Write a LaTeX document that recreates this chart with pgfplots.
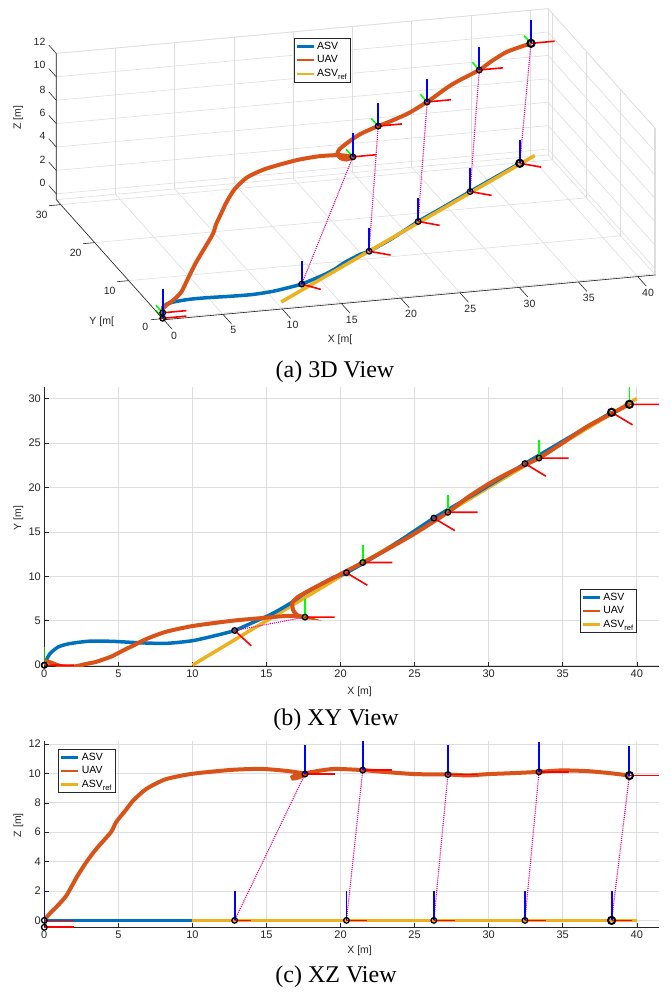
\documentclass[border=0pt]{standalone}
\usepackage{fontspec}
\setmainfont{Liberation Serif}
\setsansfont{Liberation Sans}
\usepackage{pgfplots}
\usepackage{pgfplotstable}
\pgfplotsset{compat=1.18}

\definecolor{asvc}{RGB}{0,114,189}
\definecolor{uavc}{RGB}{217,83,25}
\definecolor{refc}{RGB}{237,177,32}
\definecolor{gridc}{RGB}{222,222,222}
\definecolor{axc}{RGB}{38,38,38}

% UAV trajectory
\pgfplotstableread{
x y z
0.00 0.00 -0.47
0.02 0.25 -0.15
0.15 0.45 0.20
0.45 0.30 0.55
0.90 0.00 1.00
1.50 -0.22 1.70
2.20 -0.10 2.96
2.85 0.15 3.98
3.50 0.37 4.85
4.50 0.95 6.00
4.86 1.25 6.70
5.50 1.80 7.50
6.00 2.20 8.15
6.90 2.95 8.95
8.20 3.75 9.60
10.00 4.40 9.97
12.70 5.00 10.24
14.70 5.30 10.30
16.50 5.55 10.15
17.60 5.40 9.95
17.10 5.60 9.70
16.80 6.20 9.65
16.75 7.00 9.75
17.10 7.65 9.90
18.10 8.60 10.10
19.55 9.85 10.30
21.50 11.55 10.22
22.90 12.80 10.10
25.00 14.80 9.95
27.25 17.20 9.92
28.60 18.90 9.86
30.00 20.40 9.95
31.30 21.60 10.00
33.40 23.30 10.10
34.90 24.90 10.20
36.70 26.90 10.15
38.30 28.30 10.00
39.50 29.35 9.85
}\tabUAV

% ASV trajectory
\pgfplotstableread{
x y z
0.00 0.00 0
0.15 0.60 0
0.38 1.30 0
0.94 2.05 0
1.70 2.42 0
3.07 2.70 0
4.60 2.68 0
6.40 2.52 0
8.20 2.45 0
10.00 2.75 0
11.60 3.35 0
12.85 3.90 0
14.00 4.74 0
15.40 5.80 0
16.70 7.05 0
17.60 8.10 0
19.50 9.85 0
20.40 10.40 0
23.00 12.90 0
26.30 16.55 0
29.00 19.20 0
32.45 22.68 0
35.00 25.20 0
38.30 28.45 0
}\tabASV

% ASV reference
\pgfplotstableread{
x y z
10 0 0
40 30 0
}\tabREF

% keyframes
\pgfplotstableread{
x y z
0.00 0.00 -0.47
17.60 5.40 9.95
21.50 11.55 10.22
27.25 17.20 9.92
33.40 23.30 10.10
}\tabUKF
\pgfplotstableread{
x y z
0.00 0.00 0
12.85 3.90 0
20.40 10.40 0
26.30 16.55 0
32.45 22.68 0
}\tabAKF
\pgfplotstableread{
x y z
39.50 29.35 9.85
38.30 28.45 0
}\tabEND

% frame axes (segments)
\pgfplotstableread{
x y z
0 0 -0.47
2 0 -0.47
nan nan nan
0 0 0
2 0 0
nan nan nan
17.60 5.40 9.95
19.60 5.40 9.95
nan nan nan
21.50 11.55 10.22
23.50 11.55 10.22
nan nan nan
27.25 17.20 9.92
29.25 17.20 9.92
nan nan nan
33.40 23.30 10.10
35.40 23.30 10.10
nan nan nan
39.50 29.35 9.85
41.50 29.35 9.85
nan nan nan
12.85 3.90 0
13.97 2.18 0
nan nan nan
20.40 10.40 0
21.81 8.99 0
nan nan nan
26.30 16.55 0
27.71 15.14 0
nan nan nan
32.45 22.68 0
33.86 21.27 0
nan nan nan
38.30 28.45 0
39.71 27.04 0
}\tabRED
\pgfplotstableread{
x y z
0 0 -0.47
0 2 -0.47
nan nan nan
0 0 0
0 2 0
nan nan nan
17.60 5.40 9.95
17.60 7.40 9.95
nan nan nan
21.50 11.55 10.22
21.50 13.55 10.22
nan nan nan
27.25 17.20 9.92
27.25 19.20 9.92
nan nan nan
33.40 23.30 10.10
33.40 25.30 10.10
nan nan nan
39.50 29.35 9.85
39.50 31.35 9.85
}\tabGRN
\pgfplotstableread{
x y z
0 0 0
0 0 2
nan nan nan
0 0 -0.47
0 0 1.53
nan nan nan
17.60 5.40 9.95
17.60 5.40 11.95
nan nan nan
21.50 11.55 10.22
21.50 11.55 12.22
nan nan nan
27.25 17.20 9.92
27.25 17.20 11.92
nan nan nan
33.40 23.30 10.10
33.40 23.30 12.10
nan nan nan
39.50 29.35 9.85
39.50 29.35 11.85
nan nan nan
12.85 3.90 0
12.85 3.90 2
nan nan nan
20.40 10.40 0
20.40 10.40 2
nan nan nan
26.30 16.55 0
26.30 16.55 2
nan nan nan
32.45 22.68 0
32.45 22.68 2
nan nan nan
38.30 28.45 0
38.30 28.45 2
}\tabBLU
\pgfplotstableread{
x y z
12.85 3.90 0
17.60 5.40 9.95
nan nan nan
20.40 10.40 0
21.50 11.55 10.22
nan nan nan
26.30 16.55 0
27.25 17.20 9.92
nan nan nan
32.45 22.68 0
33.40 23.30 10.10
nan nan nan
38.30 28.45 0
39.50 29.35 9.85
}\tabMAG

\pgfplotsset{
  mlab/.style={
    font=\fontsize{11}{13}\selectfont\sffamily,
    /pgf/number format/assume math mode=true,
    tick label style={font=\fontsize{11}{13}\selectfont\sffamily, text=axc},
    label style={font=\fontsize{10.5}{12}\selectfont\sffamily, text=axc},
    grid=major,
    major grid style={draw=gridc, line width=0.6pt},
    tick style={draw=axc, line width=0.5pt},
    legend style={font=\fontsize{10.5}{12}\selectfont\sffamily, draw=axc,
      line width=0.5pt, inner sep=1.5pt, row sep=1pt, fill=white},
    legend cell align=left,
    legend image code/.code={\draw[#1, line width=2.7pt] (0pt,0pt) -- (17pt,0pt);},
    unbounded coords=jump,
  },
  asvl/.style={asvc, line width=3.5pt},
  uavl/.style={uavc, line width=4pt},
  refl/.style={refc, line width=3.5pt},
  redl/.style={red, line width=1.6pt},
  grnl/.style={green, line width=1.6pt},
  blul/.style={blue, line width=1.8pt},
  magl/.style={magenta, line width=1.1pt, densely dotted},
  kfm/.style={only marks, mark=o, mark size=2.8pt, mark options={draw=black, line width=1.3pt}},
  endm/.style={only marks, mark=o, mark size=3.6pt, mark options={draw=black, line width=2pt}},
  twod/.style={mlab, anchor=south west, scale only axis, width=614.7pt,
    xmin=0, xmax=41.5, xtick={0,5,...,40},
    axis x line*=bottom, axis y line*=left,
    axis line style={draw=axc, line width=0.6pt, -},
    xlabel={X [m]},
    xlabel style={at={(axis description cs:0.5,0)}, anchor=center, xshift=8pt},
    ylabel style={at={(axis description cs:0,0.5)}, anchor=center, yshift=26pt},
  },
}
\newcommand{\legimgs}{%
  \addlegendimage{asvl}\addlegendentry{ASV}
  \addlegendimage{uavl}\addlegendentry{UAV}
  \addlegendimage{refl}\addlegendentry{ASV\raisebox{-0.55ex}{\fontsize{7.5}{8}\selectfont ref}}
}

\begin{document}
\begin{tikzpicture}
\useasboundingbox (0,0) rectangle (670pt,992pt);

% ---------------- (a) 3D view ----------------
\begin{axis}[mlab,
  at={(162.7pt,679.2pt)}, anchor=origin,
  x={(11.85pt,1.08pt)}, y={(-3.4pt,3.8pt)}, z={(0pt,11.7pt)},
  xmin=0, xmax=41.5, ymin=-0.3, ymax=31.3, zmin=-0.5, zmax=12,
  xtick={0,5,...,40}, ytick={0,10,20,30}, ztick={0,2,...,12},
  tick align=outside, major tick length=11pt,
  tick style={draw=none},
  axis line style={draw=gridc, line width=0.6pt},
  tick label style={font=\fontsize{10.5}{12}\selectfont\sffamily},
  clip=false,
  legend style={at={(0.396,0.905)}, anchor=north west},
]
\legimgs
\addplot3[asvl, smooth, tension=0.4, forget plot] table[x=x,y=y,z=z] {\tabASV};
\addplot3[refl, forget plot] table[x=x,y=y,z=z] {\tabREF};
\addplot3[uavl, smooth, tension=0.4, forget plot] table[x=x,y=y,z=z] {\tabUAV};
\addplot3[magl, forget plot] table[x=x,y=y,z=z] {\tabMAG};
\addplot3[grnl, forget plot] table[x=x,y=y,z=z] {\tabGRN};
\addplot3[redl, forget plot] table[x=x,y=y,z=z] {\tabRED};
\addplot3[blul, forget plot] table[x=x,y=y,z=z] {\tabBLU};
\addplot3[kfm, forget plot] table[x=x,y=y,z=z] {\tabUKF};
\addplot3[kfm, forget plot] table[x=x,y=y,z=z] {\tabAKF};
\addplot3[endm, forget plot] table[x=x,y=y,z=z] {\tabEND};
% axis lines and tick marks as MATLAB draws them
\draw[axc, line width=0.6pt] (axis cs:0,-0.3,-0.5) -- (axis cs:41.5,-0.3,-0.5);
\draw[axc, line width=0.6pt] (axis cs:0,-0.3,-0.5) -- (axis cs:0,31.3,-0.5) -- (axis cs:0,31.3,12);
\pgfplotsinvokeforeach{0,5,10,15,20,25,30,35,40}{
  \draw[axc, line width=0.6pt] (axis cs:#1,-0.3,-0.5) -- (axis cs:#1,-2.8,-0.5);}
\pgfplotsinvokeforeach{0,10,20,30}{
  \draw[axc, line width=0.6pt] (axis cs:0,#1,-0.5) -- (axis cs:-1.0,#1,-0.5);}
\pgfplotsinvokeforeach{0,2,4,6,8,10,12}{
  \draw[axc, line width=0.6pt] (axis cs:0,31.3,#1) -- (axis cs:0,33.5,#1);}
\node[font=\fontsize{10.5}{12}\selectfont\sffamily, text=axc, xshift=4.5pt, yshift=-36pt] at (axis cs:14.5,-0.3,-0.5) {X [m[};
\node[font=\fontsize{10.5}{12}\selectfont\sffamily, text=axc, xshift=-62pt, yshift=-1.9pt] at (axis cs:0,-0.3,-0.5) {Y [m[};
\node[font=\fontsize{10.5}{12}\selectfont\sffamily, text=axc, xshift=-38pt, yshift=5.7pt, rotate=90] at (axis cs:0,31.3,6) {Z [m]};
\end{axis}

% ---------------- (b) XY view ----------------
\begin{axis}[twod,
  at={(44.3pt,325.5pt)}, height=279.5pt,
  ymin=-0.15, ymax=31.3, ytick={0,5,...,30},
  ylabel={Y [m]},
  xlabel style={yshift=-25.5pt},
  ylabel style={xshift=8.7pt},
  legend style={at={(0.964,0.12)}, anchor=south east},
]
\legimgs
\addplot[refl, forget plot] table[x=x,y=y] {\tabREF};
\addplot[asvl, smooth, tension=0.4, forget plot] table[x=x,y=y] {\tabASV};
\addplot[magl, forget plot] table[x=x,y=y] {\tabMAG};
\addplot[uavl, smooth, tension=0.4, forget plot] table[x=x,y=y] {\tabUAV};
\addplot[grnl, forget plot] table[x=x,y=y] {\tabGRN};
\addplot[redl, forget plot] table[x=x,y=y] {\tabRED};
\addplot[kfm, forget plot] table[x=x,y=y] {\tabUKF};
\addplot[kfm, forget plot] table[x=x,y=y] {\tabAKF};
\addplot[endm, forget plot] table[x=x,y=y] {\tabEND};
\end{axis}

% ---------------- (c) XZ view ----------------
\begin{axis}[twod,
  at={(44.3pt,64.7pt)}, height=186.3pt,
  ymin=-0.47, ymax=12.2, ytick={0,2,...,12},
  ylabel={Z [m]},
  xlabel style={yshift=-23.4pt},
  ylabel style={xshift=9pt},
  legend style={at={(0.0228,0.957)}, anchor=north west},
]
\legimgs
\addplot[asvl, forget plot] table[x=x,y=z] {\tabASV};
\addplot[refl, forget plot] table[x=x,y=z] {\tabREF};
\addplot[uavl, smooth, tension=0.4, forget plot] table[x=x,y=z] {\tabUAV};
\addplot[magl, forget plot] table[x=x,y=z] {\tabMAG};
\addplot[redl, forget plot] table[x=x,y=z] {\tabRED};
\addplot[blul, forget plot] table[x=x,y=z] {\tabBLU};
\addplot[kfm, forget plot] table[x=x,y=z] {\tabUKF};
\addplot[kfm, forget plot] table[x=x,y=z] {\tabAKF};
\addplot[endm, forget plot] table[x=x,y=z] {\tabEND};
\end{axis}

% captions
\node[font=\fontsize{24}{27}\selectfont] at (335pt,620pt) {(a) 3D View};
\node[font=\fontsize{24}{27}\selectfont] at (336pt,272pt) {(b) XY View};
\node[font=\fontsize{24}{27}\selectfont] at (336pt,15pt) {(c) XZ View};
\end{tikzpicture}
\end{document}
